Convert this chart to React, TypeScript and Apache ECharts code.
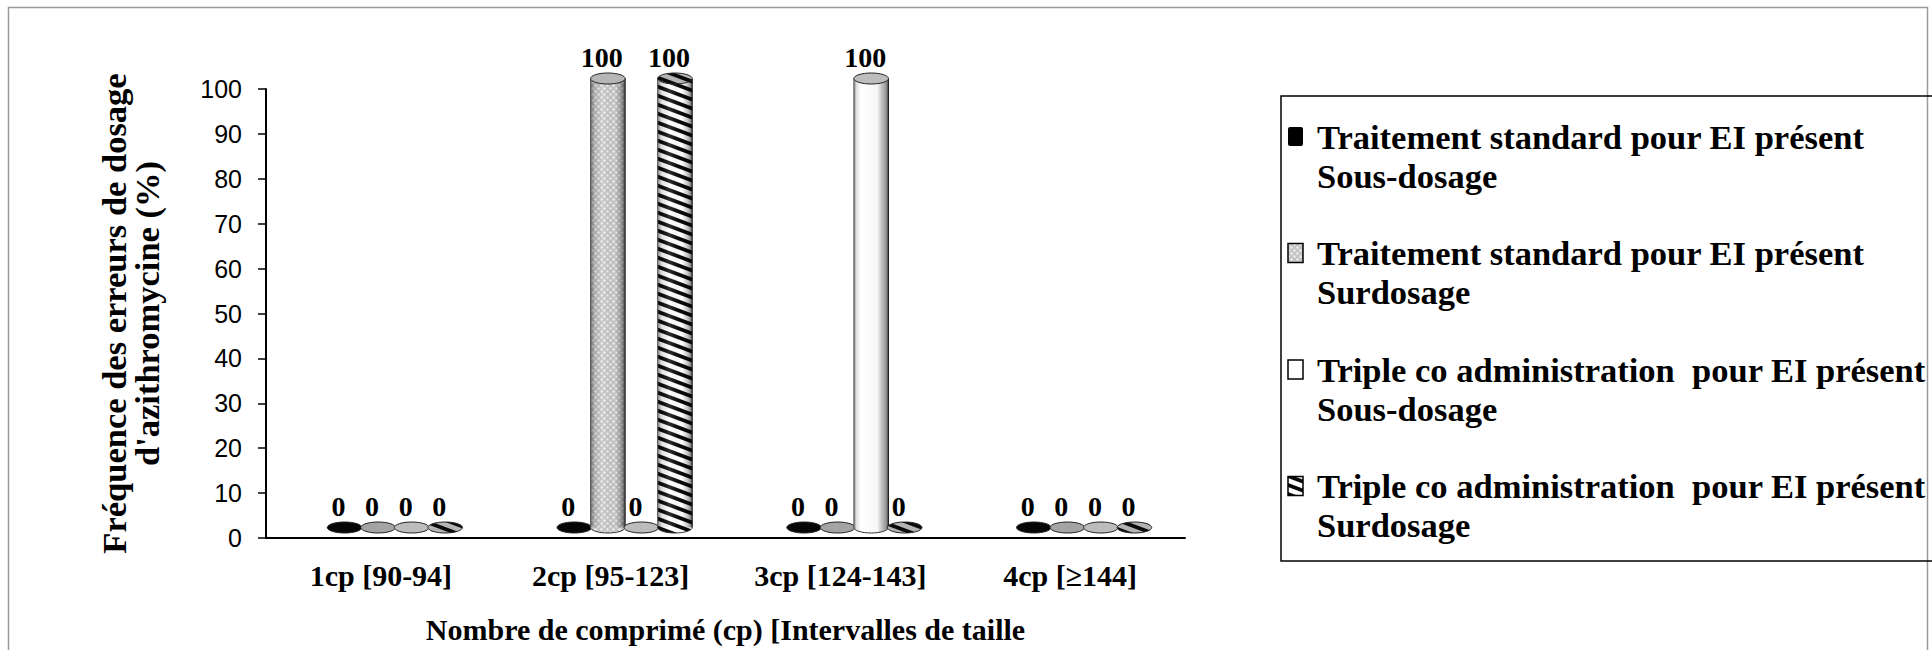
import React, { useEffect, useRef } from 'react';
import * as echarts from 'echarts';

// ---- data ----
const categories = ['1cp [90-94]', '2cp [95-123]', '3cp [124-143]', '4cp [≥144]'];
const seriesTreatments = [
  'Traitement standard pour EI présent',
  'Traitement standard pour EI présent',
  'Triple co administration  pour EI présent',
  'Triple co administration  pour EI présent',
];
const seriesDosages = ['Sous-dosage', 'Surdosage', 'Sous-dosage', 'Surdosage'];
const standardSousDosage = [0, 0, 0, 0];
const standardSurdosage = [0, 100, 0, 0];
const tripleSousDosage = [0, 0, 100, 0];
const tripleSurdosage = [0, 100, 0, 0];
const yAxisTitle = "Fréquence des erreurs de dosage\nd'azithromycine (%)";
const xAxisTitle = 'Nombre de comprimé (cp) [Intervalles de taille';
const yMin = 0;
const yMax = 100;
const yStep = 10;

const seriesValues = [standardSousDosage, standardSurdosage, tripleSousDosage, tripleSurdosage];
const seriesNames = seriesTreatments.map((t, i) => t + '\n' + seriesDosages[i]);

const SERIF = '"Liberation Serif", "Times New Roman", serif';
const SANS = '"Liberation Sans", Arial, sans-serif';

function makeCanvas(w: number, h: number, draw: (g: CanvasRenderingContext2D) => void) {
  const c = document.createElement('canvas');
  c.width = w;
  c.height = h;
  const g = c.getContext('2d') as CanvasRenderingContext2D;
  draw(g);
  return c;
}

function stripeTile(bg: string) {
  return makeCanvas(24, 9, (g) => {
    g.fillStyle = bg;
    g.fillRect(0, 0, 24, 9);
    g.fillStyle = '#0a0a0a';
    for (const o of [-9, 0, 9]) {
      g.beginPath();
      g.moveTo(0, o);
      g.lineTo(24, o + 9);
      g.lineTo(24, o + 13);
      g.lineTo(0, o + 4);
      g.closePath();
      g.fill();
    }
  });
}

function dotTile() {
  return makeCanvas(6, 6, (g) => {
    g.fillStyle = '#c4c4c4';
    g.fillRect(0, 0, 6, 6);
    g.fillStyle = '#eeeeee';
    for (const [x, y] of [[1.5, 1.5], [4.5, 4.5]]) {
      g.beginPath();
      g.arc(x, y, 1.3, 0, Math.PI * 2);
      g.fill();
    }
  });
}

export default function App() {
  const ref = useRef<HTMLDivElement>(null);

  useEffect(() => {
    if (!ref.current) return;
    const chart = echarts.init(ref.current, undefined, { renderer: 'svg' });

    const dotted = { image: dotTile(), repeat: 'repeat' };
    const striped = { image: stripeTile('#ffffff'), repeat: 'repeat' };
    const grayStriped = { image: stripeTile('#b4b4b4'), repeat: 'repeat' };
    const whiteBody = new echarts.graphic.LinearGradient(0, 0, 1, 0, [
      { offset: 0, color: '#8a8a8a' },
      { offset: 0.08, color: '#e2e2e2' },
      { offset: 0.2, color: '#ffffff' },
      { offset: 0.68, color: '#f6f6f6' },
      { offset: 0.8, color: '#c4c4c4' },
      { offset: 0.92, color: '#9a9a9a' },
      { offset: 1, color: '#5a5a5a' },
    ]);
    const shade = new echarts.graphic.LinearGradient(0, 0, 1, 0, [
      { offset: 0, color: 'rgba(0,0,0,0.45)' },
      { offset: 0.12, color: 'rgba(0,0,0,0.12)' },
      { offset: 0.35, color: 'rgba(255,255,255,0.15)' },
      { offset: 0.7, color: 'rgba(0,0,0,0)' },
      { offset: 0.88, color: 'rgba(0,0,0,0.25)' },
      { offset: 1, color: 'rgba(0,0,0,0.6)' },
    ]);

    const looks: any[] = [
      { body: '#000000', cap: '#000000', zero: '#060606', shade: false, legend: '#000000' },
      { body: dotted, cap: '#b6b6b6', zero: '#a4a4a4', shade: true, legend: dotted },
      { body: whiteBody, cap: '#bdbdbd', zero: '#bcbcbc', shade: false, legend: '#ffffff' },
      { body: striped, cap: grayStriped, zero: grayStriped, shade: true, legend: striped },
    ];

    const renderItem = (params: any, api: any) => {
      const s = params.seriesIndex;
      const cat = api.value(0) as number;
      const val = api.value(1) as number;
      const p0 = api.coord([cat, 0]);
      const p1 = api.coord([cat, val]);
      const band = api.size([1, 0])[0];
      const slot = band * 0.146;
      const cx = p0[0] + 14 + (s - 1.5) * slot;
      const yb = p0[1] - 10.5;
      const yt = p1[1] - 10.5;
      const rx = slot / 2 + 0.5;
      const ry = 5.5;
      const look = looks[s];
      const kids: any[] = [];
      if (yb - yt > 1) {
        const body = { x: cx - rx, y: yt, width: rx * 2, height: yb - yt };
        kids.push({ type: 'ellipse', shape: { cx, cy: yb, rx, ry }, style: { fill: look.body, stroke: '#333', lineWidth: 1 } });
        kids.push({ type: 'rect', shape: body, style: { fill: look.body } });
        if (look.shade) kids.push({ type: 'rect', shape: body, style: { fill: shade } });
        kids.push({ type: 'line', shape: { x1: cx - rx, y1: yt, x2: cx - rx, y2: yb }, style: { stroke: '#555', lineWidth: 1 } });
        kids.push({ type: 'line', shape: { x1: cx + rx, y1: yt, x2: cx + rx, y2: yb }, style: { stroke: '#222', lineWidth: 1.2 } });
      }
      kids.push({
        type: 'ellipse',
        shape: { cx, cy: yt, rx, ry },
        style: { fill: val > 0 ? look.cap : look.zero, stroke: '#222', lineWidth: 1 },
      });
      kids.push({
        type: 'text',
        style: {
          text: String(val),
          x: cx - 6,
          y: yt - 21,
          align: 'center',
          verticalAlign: 'middle',
          fontFamily: SERIF,
          fontWeight: 'bold',
          fontSize: 28,
          fill: '#000',
        },
      });
      return { type: 'group', children: kids };
    };

    // legend drawn as graphic so the icon sits on the first text line
    const legendX = 1288;
    const legendTop = 127;
    const legendStep = 116.5;
    const legendLine = 39;
    const legendItems: any[] = [];
    seriesNames.forEach((n, i) => {
      const y = legendTop + i * legendStep;
      legendItems.push({
        type: 'rect',
        silent: true,
        shape: { x: legendX, y, width: 15, height: 19, r: i === 0 ? 2 : 0 },
        style: { fill: looks[i].legend, stroke: '#000', lineWidth: i === 0 ? 0 : 1.5 },
      });
      legendItems.push({
        type: 'text',
        silent: true,
        x: legendX + 29,
        y: y + 9.5 - legendLine / 2,
        style: {
          text: n,
          fontFamily: SERIF,
          fontWeight: 'bold',
          fontSize: 34.5,
          lineHeight: legendLine,
          fill: '#000',
          align: 'left',
          verticalAlign: 'top',
        },
      });
    });

    const option: any = {
      animation: false,
      backgroundColor: '#ffffff',
      grid: { left: 266, right: 747, top: 89, bottom: 112, containLabel: false },
      xAxis: {
        type: 'category',
        data: categories,
        axisTick: { show: false },
        axisLine: { show: true, lineStyle: { color: '#000', width: 2 } },
        axisLabel: {
          margin: 22,
          fontFamily: SERIF,
          fontWeight: 'bold',
          fontSize: 30,
          lineHeight: 30,
          color: '#000',
        },
        name: xAxisTitle,
        nameLocation: 'middle',
        nameGap: 75,
        nameTextStyle: { fontFamily: SERIF, fontWeight: 'bold', fontSize: 30, lineHeight: 32, color: '#000' },
      },
      yAxis: {
        type: 'value',
        min: yMin,
        max: yMax,
        interval: yStep,
        axisLine: { show: true, lineStyle: { color: '#000', width: 2 } },
        axisTick: { show: true, length: 8, lineStyle: { color: '#000', width: 1.5 } },
        splitLine: { show: false },
        axisLabel: { margin: 24, fontFamily: SANS, fontSize: 25, color: '#000' },
        name: yAxisTitle,
        nameLocation: 'middle',
        nameGap: 103,
        nameTextStyle: { fontFamily: SERIF, fontWeight: 'bold', fontSize: 34.5, lineHeight: 33, color: '#000' },
      },
      graphic: [
        {
          type: 'rect',
          silent: true,
          z: -10,
          shape: { x: 8.5, y: 7.5, width: 1919, height: 700 },
          style: { fill: 'none', stroke: '#9a9a9a', lineWidth: 1.5 },
        },
        {
          type: 'rect',
          silent: true,
          shape: { x: 1281, y: 96, width: 700, height: 465 },
          style: { fill: 'none', stroke: '#000', lineWidth: 1.5 },
        },
        ...legendItems,
      ],
      series: seriesValues.map((vals, s) => ({
        type: 'custom',
        name: seriesNames[s],
        coordinateSystem: 'cartesian2d',
        clip: false,
        data: vals.map((v, i) => [i, v]),
        encode: { x: 0, y: 1 },
        itemStyle: { color: looks[s].legend, borderColor: '#000', borderWidth: 1.5 },
        renderItem,
      })),
    };

    chart.setOption(option);
    return () => chart.dispose();
  }, []);

  return (
    <div
      ref={ref}
      style={{ position: 'absolute', left: 0, top: 0, width: 1932, height: 650, background: '#fff' }}
    />
  );
}
